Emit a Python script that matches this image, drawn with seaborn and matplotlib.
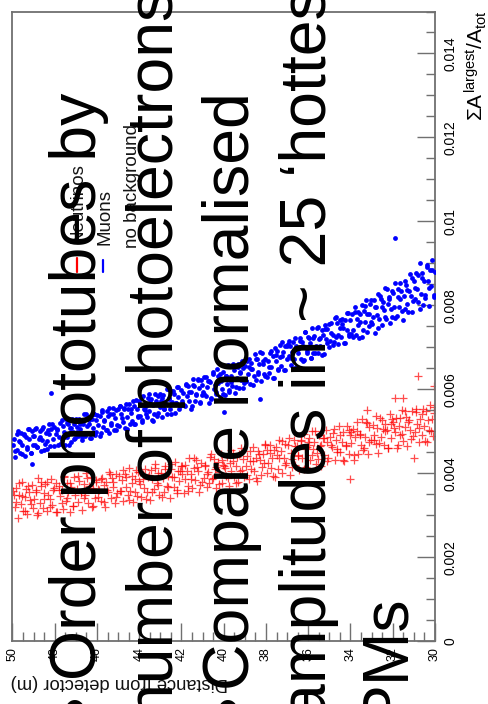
import numpy as np
import pandas as pd
import matplotlib
matplotlib.use("Agg")
import matplotlib.pyplot as plt
import seaborn as sns
from matplotlib.ticker import MultipleLocator, FuncFormatter
from matplotlib.lines import Line2D

# ---------------- data ----------------
# Muons: distance from detector (m) and sum of largest amplitudes / total (units of 1e-5)
muon_dist = [
    30.02,30.07,30.13,30.18,30.23,30.29,30.34,30.39,30.45,30.51,30.56,30.62,30.67,30.73,30.79,30.84,30.90,30.95,
    31.04,31.09,31.15,31.20,31.26,31.31,31.37,31.42,31.48,31.53,31.59,31.64,31.70,31.76,31.81,31.87,31.92,31.98,
    32.02,32.08,32.13,32.19,32.24,32.30,32.35,32.41,32.46,32.52,32.57,32.63,32.68,32.74,32.80,32.85,32.91,32.96,
    33.03,33.09,33.14,33.20,33.25,33.31,33.36,33.42,33.47,33.53,33.58,33.64,33.69,33.75,33.81,33.86,33.92,33.97,
    34.02,34.07,34.13,34.18,34.24,34.29,34.35,34.40,34.46,34.51,34.57,34.62,34.68,34.74,34.79,34.85,34.90,34.96,
    35.04,35.10,35.15,35.21,35.26,35.32,35.37,35.43,35.48,35.54,35.59,35.65,35.71,35.76,35.82,35.87,35.93,35.98,
    36.03,36.08,36.14,36.19,36.25,36.30,36.36,36.41,36.47,36.52,36.58,36.63,36.69,36.75,36.80,36.86,36.91,36.97,
    37.02,37.08,37.13,37.19,37.24,37.30,37.35,37.41,37.46,37.52,37.57,37.63,37.68,37.74,37.79,37.85,37.90,37.96,
    38.04,38.09,38.15,38.20,38.26,38.31,38.37,38.42,38.48,38.53,38.59,38.64,38.70,38.75,38.81,38.86,38.92,38.97,
    39.02,39.07,39.13,39.18,39.23,39.29,39.34,39.39,39.45,39.51,39.56,39.62,39.67,39.73,39.79,39.84,39.90,39.95,
    40.03,40.09,40.14,40.20,40.25,40.31,40.36,40.42,40.47,40.53,40.58,40.64,40.69,40.75,40.81,40.86,40.92,40.97,
    41.02,41.08,41.13,41.19,41.24,41.30,41.35,41.41,41.46,41.52,41.57,41.63,41.68,41.74,41.80,41.85,41.91,41.96,
    42.04,42.10,42.15,42.21,42.26,42.32,42.37,42.43,42.48,42.54,42.59,42.65,42.71,42.76,42.82,42.87,42.93,42.98,
    43.03,43.09,43.14,43.20,43.25,43.31,43.36,43.42,43.47,43.53,43.58,43.64,43.69,43.75,43.81,43.86,43.92,43.97,
    44.02,44.07,44.13,44.18,44.24,44.29,44.35,44.40,44.46,44.51,44.57,44.62,44.68,44.74,44.79,44.85,44.90,44.96,
    45.04,45.10,45.15,45.21,45.26,45.32,45.37,45.43,45.48,45.54,45.59,45.65,45.71,45.76,45.82,45.87,45.93,45.98,
    46.03,46.09,46.14,46.20,46.25,46.31,46.36,46.42,46.47,46.53,46.58,46.64,46.69,46.75,46.81,46.86,46.92,46.97,
    47.02,47.08,47.13,47.19,47.24,47.30,47.35,47.41,47.46,47.52,47.57,47.63,47.68,47.74,47.80,47.85,47.91,47.96,
    48.04,48.10,48.15,48.21,48.26,48.32,48.37,48.43,48.48,48.54,48.59,48.65,48.71,48.76,48.82,48.87,48.93,48.98,
    49.03,49.09,49.14,49.20,49.25,49.31,49.36,49.42,49.47,49.53,49.58,49.64,49.69,49.75,49.81,49.86,49.92,49.97,
    31.90,38.30,40.00,48.20,49.10,
    30.05,30.16,30.27,30.38,30.49,30.60,30.71,30.82,30.93,
    31.01,31.11,31.22,31.33,31.44,31.55,31.66,31.77,31.88,
    32.05,32.16,32.27,32.38,32.49,32.60,32.71,32.82,32.93,
    33.01,33.11,33.22,33.33,33.44,33.55,33.66,33.77,33.88,
    34.05,34.16,34.27,34.38,34.49,34.60,34.71,34.82,34.93,
    35.01,35.11,35.22,35.33,35.44,35.55,35.66,35.77,35.88,
    36.05,36.16,36.27,36.38,36.49,36.60,36.71,36.82,36.93,
    37.01,37.11,37.22,37.33,37.44,37.55,37.66,37.77,37.88,
    38.05,38.16,38.27,38.38,38.49,38.60,38.71,38.82,38.93,
    39.01,39.11,39.22,39.33,39.44,39.55,39.66,39.77,39.88,
    40.05,40.16,40.27,40.38,40.49,40.60,40.71,40.82,40.93,
    41.01,41.11,41.22,41.33,41.44,41.55,41.66,41.77,41.88,
    42.05,42.16,42.27,42.38,42.49,42.60,42.71,42.82,42.93,
    43.01,43.11,43.22,43.33,43.44,43.55,43.66,43.77,43.88,
    44.05,44.16,44.27,44.38,44.49,44.60,44.71,44.82,44.93,
    45.01,45.11,45.22,45.33,45.44,45.55,45.66,45.77,45.88,
    46.05,46.16,46.27,46.38,46.49,46.60,46.71,46.82,46.93,
    47.01,47.11,47.22,47.33,47.44,47.55,47.66,47.77,47.88,
    48.05,48.16,48.27,48.38,48.49,48.60,48.71,48.82,48.93,
    49.01,49.11,49.22,49.33,49.44,49.55,49.66,49.77,49.88,
]
muon_sumA_e5 = [
    879,824,908,847,885,799,858,890,824,859,800,877,828,900,808,839,878,816,
    809,864,822,874,785,837,848,790,823,765,835,852,796,819,775,852,796,829,
    833,790,757,819,804,768,841,789,808,754,815,768,826,777,795,734,812,755,
    759,804,778,737,813,760,787,741,800,760,723,783,768,728,795,742,780,731,
    766,726,781,742,766,711,745,768,724,747,708,758,725,769,712,730,757,716,
    700,743,719,752,685,729,742,703,719,686,747,703,726,687,747,674,711,723,
    724,691,736,669,703,712,673,722,686,653,702,721,671,688,657,704,678,707,
    672,704,645,688,713,655,676,645,690,667,697,626,679,652,687,639,668,629,
    673,636,659,686,619,661,642,673,622,685,632,647,663,612,653,636,667,620,
    615,650,668,623,638,603,652,627,592,645,656,608,631,598,657,612,631,586,
    642,601,620,581,632,649,588,611,600,637,580,617,566,619,606,583,628,593,
    586,621,568,603,624,589,572,607,624,559,594,573,608,583,612,559,592,573,
    597,554,581,605,566,543,588,569,596,553,578,601,542,569,554,585,534,573,
    557,584,535,572,589,542,562,527,574,547,580,533,561,550,583,526,563,536,
    572,537,552,517,560,573,524,544,517,552,533,564,507,556,521,542,561,513,
    515,550,532,503,556,519,540,495,535,548,503,526,509,551,496,535,514,539,
    527,492,541,508,530,483,516,533,496,540,489,516,479,521,504,529,488,509,
    483,516,497,528,474,507,518,486,529,466,498,513,478,519,485,468,503,494,
    511,481,518,465,493,502,457,495,470,509,478,452,501,482,462,507,468,489,
    467,500,449,481,504,457,487,442,491,467,496,449,477,500,455,439,482,467,
    960,576,545,590,422,
    820,885,842,897,817,864,791,871,840,
    857,784,834,803,858,787,816,839,770,
    773,816,839,772,797,822,746,795,772,
    813,750,779,798,724,779,754,783,724,
    731,781,711,755,766,729,772,706,735,
    756,709,743,682,723,749,686,721,675,
    686,737,667,714,696,653,713,674,714,
    703,646,680,706,649,681,626,690,652,
    631,667,688,636,672,611,647,671,620,
    656,602,640,659,605,661,617,593,632,
    588,636,614,594,642,576,620,630,589,
    611,569,623,585,609,553,593,609,563,
    559,605,567,596,542,576,600,552,580,
    588,543,567,525,576,588,542,553,523,
    533,575,518,552,564,506,553,531,561,
    553,502,540,514,555,503,525,546,488,
    498,541,483,526,512,541,485,516,498,
    530,481,508,468,519,485,526,469,505,
    465,504,516,477,454,504,485,463,506,
    488,447,504,462,493,446,473,493,452,
]

# Neutrinos
nu_dist = [
    30.03,30.10,30.16,30.23,30.30,30.36,30.43,30.50,30.56,30.63,30.70,30.76,30.83,30.89,30.96,
    31.05,31.11,31.18,31.24,31.31,31.38,31.44,31.51,31.57,31.64,31.71,31.77,31.84,31.90,31.97,
    32.02,32.09,32.15,32.22,32.29,32.35,32.42,32.48,32.55,32.62,32.68,32.75,32.81,32.88,32.95,
    33.04,33.11,33.17,33.24,33.31,33.37,33.44,33.50,33.57,33.63,33.70,33.77,33.83,33.90,33.96,
    34.03,34.09,34.16,34.22,34.29,34.36,34.42,34.49,34.55,34.62,34.69,34.75,34.82,34.88,34.95,
    35.05,35.12,35.18,35.25,35.31,35.38,35.45,35.51,35.58,35.64,35.71,35.78,35.84,35.91,35.97,
    36.02,36.09,36.16,36.22,36.29,36.35,36.42,36.49,36.55,36.62,36.68,36.75,36.82,36.88,36.95,
    37.04,37.10,37.17,37.24,37.30,37.37,37.43,37.50,37.57,37.63,37.70,37.76,37.83,37.90,37.96,
    38.03,38.09,38.16,38.22,38.29,38.36,38.42,38.49,38.55,38.62,38.69,38.75,38.82,38.88,38.95,
    39.05,39.11,39.18,39.25,39.31,39.38,39.44,39.51,39.58,39.64,39.71,39.77,39.84,39.91,39.97,
    40.02,40.09,40.15,40.22,40.29,40.35,40.42,40.48,40.55,40.62,40.68,40.75,40.81,40.88,40.95,
    41.04,41.10,41.17,41.23,41.30,41.37,41.43,41.50,41.56,41.63,41.70,41.76,41.83,41.89,41.96,
    42.03,42.10,42.16,42.23,42.29,42.36,42.43,42.49,42.56,42.62,42.69,42.76,42.82,42.89,42.95,
    43.05,43.11,43.18,43.24,43.31,43.38,43.44,43.51,43.57,43.64,43.71,43.77,43.84,43.90,43.97,
    44.02,44.09,44.15,44.22,44.28,44.35,44.42,44.48,44.55,44.61,44.68,44.75,44.81,44.88,44.94,
    45.03,45.10,45.17,45.23,45.30,45.36,45.43,45.50,45.56,45.63,45.69,45.76,45.83,45.89,45.96,
    46.04,46.11,46.17,46.24,46.30,46.37,46.44,46.50,46.57,46.63,46.70,46.77,46.83,46.90,46.96,
    47.02,47.09,47.15,47.22,47.29,47.35,47.42,47.48,47.55,47.61,47.68,47.75,47.81,47.88,47.94,
    48.05,48.11,48.18,48.24,48.31,48.38,48.44,48.51,48.57,48.64,48.71,48.77,48.84,48.90,48.97,
    49.03,49.10,49.16,49.23,49.29,49.36,49.43,49.49,49.56,49.62,49.69,49.76,49.82,49.89,49.95,
    30.80,30.05,31.90,31.50,33.20,34.00,31.00,
    30.07,30.21,30.35,30.49,30.63,30.77,30.91,
    31.12,31.26,31.40,31.54,31.68,31.82,31.96,
    32.07,32.21,32.35,32.49,32.63,32.77,32.91,
    33.12,33.26,33.40,33.54,33.68,33.82,33.96,
    34.07,34.21,34.35,34.49,34.63,34.77,34.91,
    35.12,35.26,35.40,35.54,35.68,35.82,35.96,
    36.07,36.21,36.35,36.49,36.63,36.77,36.91,
    37.12,37.26,37.40,37.54,37.68,37.82,37.96,
    38.07,38.21,38.35,38.49,38.63,38.77,38.91,
    39.12,39.26,39.40,39.54,39.68,39.82,39.96,
    40.07,40.21,40.35,40.49,40.63,40.77,40.91,
    41.12,41.26,41.40,41.54,41.68,41.82,41.96,
    42.07,42.21,42.35,42.49,42.63,42.77,42.91,
    43.12,43.26,43.40,43.54,43.68,43.82,43.96,
    44.07,44.21,44.35,44.49,44.63,44.77,44.91,
    45.12,45.26,45.40,45.54,45.68,45.82,45.96,
    46.07,46.21,46.35,46.49,46.63,46.77,46.91,
    47.12,47.26,47.40,47.54,47.68,47.82,47.96,
    48.07,48.21,48.35,48.49,48.63,48.77,48.91,
    49.12,49.26,49.40,49.54,49.68,49.82,49.96,
]
nu_sumA_e5 = [
    544,489,530,563,502,474,547,512,553,490,530,475,518,545,498,
    489,547,502,527,464,533,511,476,551,490,513,467,532,499,522,
    530,483,542,459,503,518,467,506,487,531,448,507,470,491,515,
    478,511,446,519,486,460,529,466,493,446,500,485,432,505,472,
    492,445,512,465,429,498,475,450,513,457,478,431,496,463,485,
    437,475,502,443,484,417,465,490,447,422,475,457,500,431,466,
    474,415,458,494,435,476,407,443,464,419,480,434,447,396,467,
    425,470,437,400,452,479,410,444,391,454,435,413,468,423,454,
    466,423,446,395,431,452,381,437,404,463,410,428,387,442,417,
    390,434,461,404,378,439,416,391,447,406,425,369,438,393,416,
    420,377,445,402,427,365,410,434,385,446,376,403,366,418,389,
    379,424,355,405,432,384,413,364,398,435,369,406,385,353,418,
    418,381,405,352,427,367,390,410,341,394,370,417,355,388,401,
    347,400,376,421,363,386,407,337,390,354,411,365,398,344,375,
    381,346,408,385,331,392,358,413,349,366,398,333,383,358,392,
    352,397,329,368,388,341,403,356,378,319,371,388,334,361,343,
    383,340,364,319,391,369,328,400,347,373,312,356,382,331,363,
    347,390,322,368,307,355,376,334,391,315,359,346,370,307,377,
    365,324,386,338,347,309,373,352,316,378,329,389,301,354,338,
    318,372,337,355,303,362,344,310,379,327,347,294,364,319,349,
    631,607,579,579,550,386,436,
    557,501,526,476,540,507,553,
    481,523,547,494,532,459,507,
    517,459,500,526,472,535,479,
    473,521,456,492,522,443,499,
    503,467,432,490,450,505,467,
    429,483,468,434,500,443,483,
    463,410,480,441,465,415,484,
    420,477,435,462,392,447,401,
    469,414,446,389,429,452,396,
    408,445,377,430,454,389,413,
    431,374,415,388,438,397,420,
    372,415,436,387,357,420,397,
    405,360,391,422,367,410,342,
    372,413,354,395,338,385,402,
    402,355,376,336,391,408,357,
    343,378,399,359,332,387,362,
    378,321,365,388,341,353,394,
    322,376,341,392,328,361,308,
    359,320,380,339,370,306,361,
    326,369,309,346,377,331,358,
]

series_labels = ["Neutrinos", "Muons"]
legend_note = "no background"
x_label = "Distance from detector (m)"
y_label = r"$\Sigma A^{largest}/A_{tot}$"
bullet_lines = [
    "Order phototubes by",
    "number of photoelectrons",
    "Compare normalised",
    "amplitudes in ~ 25 \u2018hottest\u2019",
    "PMs",
]
bullet_mark = "\u2022"

# ---------------- figure ----------------
sns.set_theme(style="white")
plt.rcParams["font.family"] = ["Liberation Sans", "DejaVu Sans"]
plt.rcParams["mathtext.fontset"] = "custom"
plt.rcParams["mathtext.rm"] = "Liberation Sans"
plt.rcParams["mathtext.it"] = "Liberation Sans"
plt.rcParams["mathtext.bf"] = "Liberation Sans:bold"

W, H = 489, 704
fig = plt.figure(figsize=(W / 100, H / 100), dpi=100)
fig.patch.set_facecolor("white")

def fx(px):
    return px / W

def fy(py):
    return 1 - py / H

ax = fig.add_axes([fx(12.5), fy(641), (435 - 12.5) / W, (641 - 11.5) / H])
ax.set_facecolor("white")

muons = pd.DataFrame({"dist": muon_dist, "sumA": np.array(muon_sumA_e5) * 1e-5})
nus = pd.DataFrame({"dist": nu_dist, "sumA": np.array(nu_sumA_e5) * 1e-5})

sns.scatterplot(data=nus, x="dist", y="sumA", ax=ax, marker="+", color="red",
                s=36, linewidth=0.9, alpha=0.7, legend=False, zorder=2)
sns.scatterplot(data=muons, x="dist", y="sumA", ax=ax, marker="o", color="blue",
                s=12, linewidth=0, legend=False, zorder=3)

ax.set_xlim(50, 30)
ax.set_ylim(0, 0.015)
ax.set_xlabel("")
ax.set_ylabel("")

frame_col = "#707070"
for sp in ax.spines.values():
    sp.set_color(frame_col)
    sp.set_linewidth(1.3)

ax.xaxis.set_major_locator(MultipleLocator(2))
ax.xaxis.set_minor_locator(MultipleLocator(0.5))
ax.yaxis.set_major_locator(MultipleLocator(0.002))
ax.yaxis.set_minor_locator(MultipleLocator(0.0005))
ax.yaxis.set_major_formatter(FuncFormatter(lambda v, p: f"{v:g}"))
ax.xaxis.set_major_formatter(FuncFormatter(lambda v, p: f"{v:g}"))
ax.yaxis.tick_right()

ax.tick_params(axis="both", which="both", direction="in", color=frame_col, width=1.0,
               top=False, left=False, labelleft=False, labeltop=False)
ax.tick_params(axis="y", which="both", right=True, labelright=True)
ax.tick_params(axis="x", which="both", bottom=True, labelbottom=True)
ax.tick_params(axis="both", which="major", length=13)
ax.tick_params(axis="both", which="minor", length=6.5)
ax.tick_params(axis="x", labelsize=9, pad=4.3, labelrotation=90, labelcolor="black")
ax.tick_params(axis="y", labelsize=10, pad=5.8, labelrotation=90, labelcolor="black")
for lab in ax.get_yticklabels():
    lab.set_va("center")
ax.grid(False)

# axis titles (rotated like the picture)
fig.text(fx(483), fy(11), y_label, rotation=90, rotation_mode="anchor",
         ha="right", va="baseline", fontsize=15, color="black")
fig.text(fx(228), fy(678), x_label, rotation=180, rotation_mode="anchor",
         ha="left", va="baseline", fontsize=13.2, color="#111111")

# legend
fig.add_artist(Line2D([fx(77), fx(77)], [fy(258), fy(272)], color="red", lw=1.6,
                      transform=fig.transFigure))
fig.add_artist(Line2D([fx(103), fx(103)], [fy(260), fy(272)], color="blue", lw=1.6,
                      transform=fig.transFigure))
fig.text(fx(83), fy(243), series_labels[0], rotation=90, rotation_mode="anchor",
         ha="left", va="baseline", fontsize=13.5, color="#151515")
fig.text(fx(110), fy(245), series_labels[1], rotation=90, rotation_mode="anchor",
         ha="left", va="baseline", fontsize=13.5, color="#151515")
fig.text(fx(137), fy(248), legend_note, rotation=90, rotation_mode="anchor",
         ha="left", va="baseline", fontsize=13.5, color="#151515")

# overlaid slide text
baselines = [96, 173, 249, 326, 403]
starts = [680, 719, 690, 719, 722]
for line, bx, sy in zip(bullet_lines, baselines, starts):
    fig.text(fx(bx), fy(sy), line, rotation=90, rotation_mode="anchor",
             ha="left", va="baseline", fontsize=46.4, color="black", zorder=10)
for bx in (baselines[0], baselines[2]):
    fig.text(fx(bx), fy(717), bullet_mark, rotation=90, rotation_mode="anchor",
             ha="left", va="baseline", fontsize=46.4, color="black", zorder=10)

fig.savefig("out.png", dpi=100)
